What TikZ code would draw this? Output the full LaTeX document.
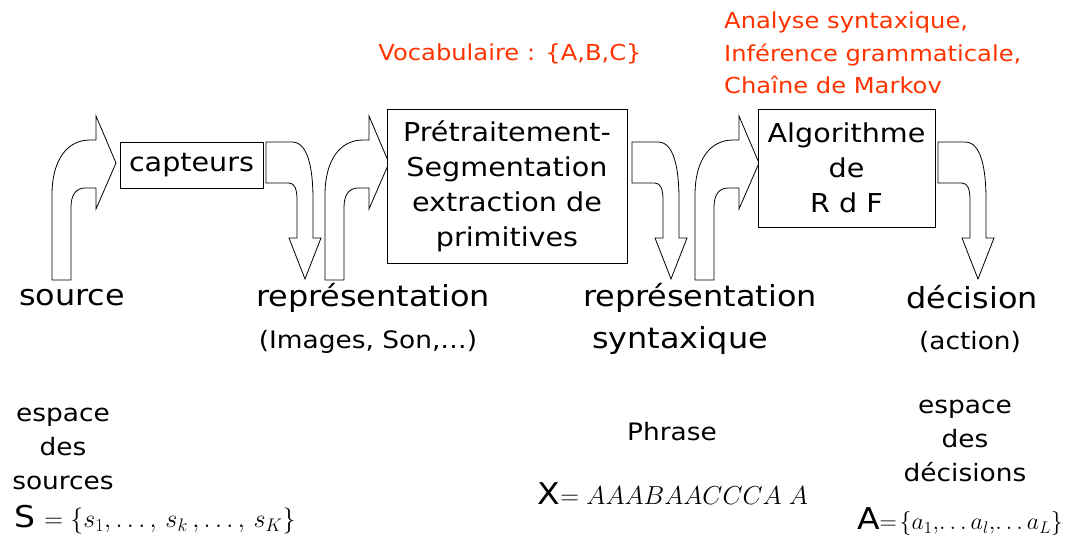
\RequirePackage{fix-cm}
\documentclass[tikz,border=0pt]{standalone}
\usepackage{fontspec}
\setmainfont[FakeStretch=1.1]{DejaVu Sans}
\setsansfont[FakeStretch=1.1]{DejaVu Sans}
\usetikzlibrary{positioning}

\definecolor{rougeRdF}{RGB}{255,51,0}

\begin{document}
\begin{tikzpicture}[x=1pt,y=-1pt,
  every node/.style={inner sep=0pt},
  boite/.style={draw, line width=0.8pt, fill=white, align=center, font=\fontsize{26}{35}\selectfont},
  etiq/.style={font=\fontsize{29}{42}\selectfont, align=center},
  petit/.style={font=\fontsize{24}{34}\selectfont, align=center},
  espace/.style={font=\fontsize{24}{34}\selectfont, align=center},
  formule/.style={font=\fontsize{26}{30}\selectfont},
  rouge/.style={text=rougeRdF, font=\fontsize{22}{32.5}\selectfont, align=left},
  bloc/.style={draw, line width=0.8pt, fill=white}]

\useasboundingbox (0,0) rectangle (1071,547);

\newcommand\flecheHaut[1]{%
\draw[bloc] (#1,280) -- (#1,195) .. controls (#1,160) and ({#1+15},140) .. ({#1+38},140) -- ({#1+44},140) -- ({#1+44},116) -- ({#1+64},163) -- ({#1+44},209) -- ({#1+44},188) -- ({#1+33},188) .. controls ({#1+24},188) and ({#1+19},195) .. ({#1+19},207) -- ({#1+19},280) -- cycle;}
\newcommand\flecheBas[2]{%
\draw[bloc] (#1,142) -- ({#2-13},142) .. controls ({#2+2},142) and ({#2+8},165) .. ({#2+8},200) -- ({#2+8},238) -- ({#2+16},238) -- (#2,279) -- ({#2-16},238) -- ({#2-8},238) -- ({#2-8},200) .. controls ({#2-8},190) and ({#2-10},183) .. ({#2-16},183) -- (#1,183) -- cycle;}
\newcommand\grand[1]{{\fontsize{30}{30}\selectfont #1}}

% fleches courbes
\flecheHaut{52}
\flecheHaut{325}
\flecheHaut{695}
\flecheBas{266}{305}
\flecheBas{632}{671}
\flecheBas{938}{978}

% boites
\node[boite, minimum width=143pt, minimum height=46pt] (capteurs) at (191.5,165) {capteurs};
\node[boite, minimum width=240pt, minimum height=154pt] (pretrait) at (507,186) {Prétraitement-\\Segmentation\\extraction de\\primitives};
\node[boite, minimum width=177pt, minimum height=118pt] (algo) at (846.5,168) {Algorithme\\de\\R d F};

% etapes
\node[etiq] (source) at (72,298) {source};
\node[etiq] (repr) at (373,298) {représentation};
\node[petit] (images) at (368,342) {(Images, Son,…)};
\node[etiq] (reprsyn) at (700,298) {représentation};
\node[etiq] (syntax) at (680,340) {syntaxique};
\node[etiq] (decision) at (972,297) {décision};
\node[petit] (action) at (970,342) {(action)};

% annotations
\node[rouge, anchor=center] (vocab) at (510,54) {Vocabulaire : \{A,B,C\}};
\node[rouge, anchor=north west] (analyse) at (724,12) {Analyse syntaxique,\\Inférence grammaticale,\\Chaîne de Markov};

% espaces
\node[espace] (espsrc) at (63,449) {espace\\des\\sources};
\node[formule] (ensS) at (155,520) {\grand{S} $=\Bigl\{s_1,\ldots,\,s_k\,,\ldots,\,s_K\Bigr\}$};
\node[espace] (phrase) at (672,432) {Phrase};
\node[formule] (motX) at (673,494) {\grand{X}$=AAABAACCCA\;A$};
\node[formule, font=\fontsize{24}{28}\selectfont] (ensA) at (960,522) {\grand{A}$=\!\bigl\{a_1,\!\ldots a_l,\!\ldots a_L\bigr\}$};
\node[espace] (espdec) at (965,441) {espace\\des\\décisions};

\end{tikzpicture}
\end{document}
